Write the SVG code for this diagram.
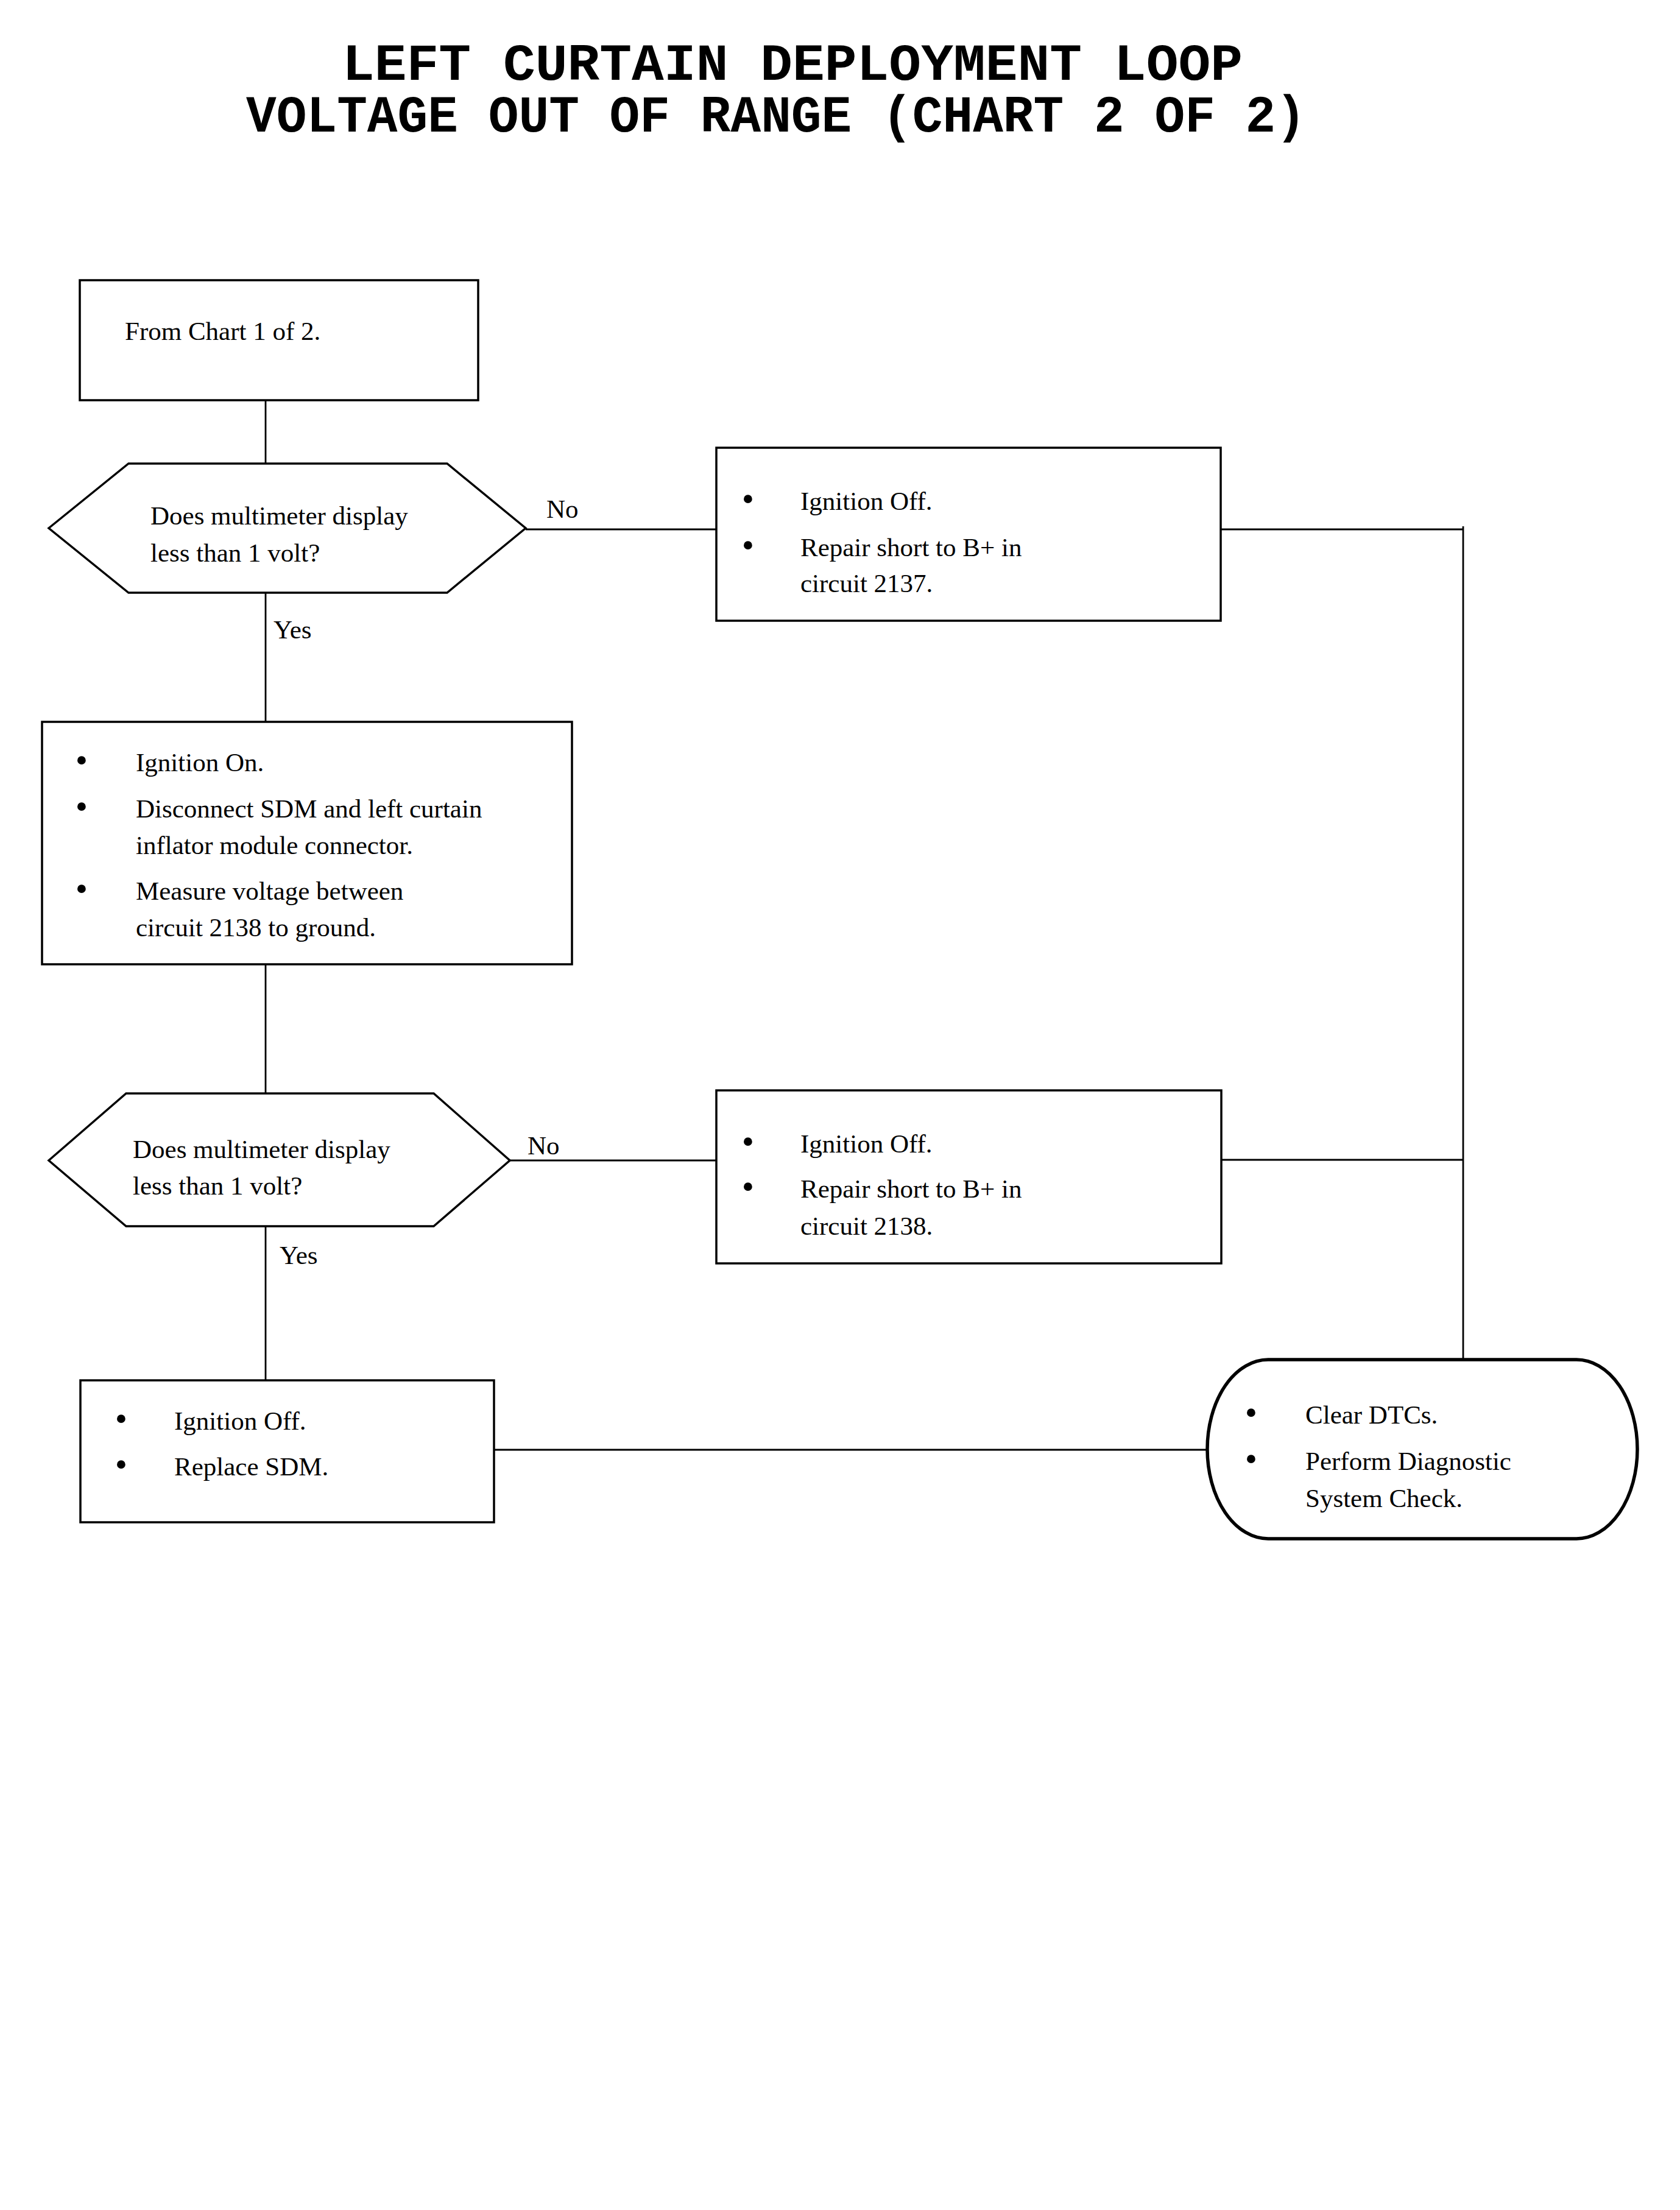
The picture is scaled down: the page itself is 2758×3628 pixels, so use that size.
<svg xmlns="http://www.w3.org/2000/svg" width="2758" height="3628" viewBox="0 0 2758 3628">
<style>
.bg{fill:#fff}
.box{fill:#fff;stroke:#000;stroke-width:3.5}
.term{fill:#fff;stroke:#000;stroke-width:5.5}
.con{fill:none;stroke:#000;stroke-width:2.8}
.t{font-family:"Liberation Serif","Times New Roman",serif;font-size:43px;fill:#000}
.b{font-family:"Liberation Serif","Times New Roman",serif;font-size:58px;fill:#000;text-anchor:middle}
.title{font-family:"Liberation Mono","Courier New",monospace;font-weight:bold;font-size:86px;fill:#000}
</style>
<rect class="bg" x="0" y="0" width="2758" height="3628"/>
<g id="title">
<text class="title" x="562" y="131" textLength="1478" lengthAdjust="spacingAndGlyphs">LEFT CURTAIN DEPLOYMENT LOOP</text>
<text class="title" x="404" y="216" textLength="1740" lengthAdjust="spacingAndGlyphs">VOLTAGE OUT OF RANGE (CHART 2 OF 2)</text>
</g>
<g id="connectors">
<line class="con" x1="436" y1="657" x2="436" y2="761"/>
<line class="con" x1="863" y1="869" x2="1176" y2="869"/>
<line class="con" x1="436" y1="973" x2="436" y2="1185"/>
<line class="con" x1="2004" y1="869" x2="2402" y2="869"/>
<line class="con" x1="2402" y1="864" x2="2402" y2="2232"/>
<line class="con" x1="436" y1="1583" x2="436" y2="1795"/>
<line class="con" x1="837" y1="1905" x2="1176" y2="1905"/>
<line class="con" x1="2005" y1="1904" x2="2402" y2="1904"/>
<line class="con" x1="436" y1="2013" x2="436" y2="2266"/>
<line class="con" x1="811" y1="2380" x2="1982" y2="2380"/>
<text class="t" x="897" y="850">No</text>
<text class="t" x="449" y="1048">Yes</text>
<text class="t" x="866" y="1895">No</text>
<text class="t" x="459" y="2075">Yes</text>
</g>
<g id="n_start">
<rect class="box" x="131" y="460" width="654" height="197"/>
<text class="t" x="205" y="558">From Chart 1 of 2.</text>
</g>
<g id="n_dec1">
<polygon class="box" points="80,867 211,761 734,761 863,867 734,973 211,973"/>
<text class="t" x="247" y="861">Does multimeter display</text>
<text class="t" x="247" y="922">less than 1 volt?</text>
</g>
<g id="n_repair2137">
<rect class="box" x="1176" y="735" width="828" height="284"/>
<text class="b" x="1228" y="838">•</text>
<text class="t" x="1314" y="837">Ignition Off.</text>
<text class="b" x="1228" y="914">•</text>
<text class="t" x="1314" y="913">Repair short to B+ in</text>
<text class="t" x="1314" y="972">circuit 2137.</text>
</g>
<g id="n_ignon">
<rect class="box" x="69" y="1185" width="870" height="398"/>
<text class="b" x="134" y="1267">•</text>
<text class="t" x="223" y="1266">Ignition On.</text>
<text class="b" x="134" y="1343">•</text>
<text class="t" x="223" y="1342">Disconnect SDM and left curtain</text>
<text class="t" x="223" y="1402">inflator module connector.</text>
<text class="b" x="134" y="1478">•</text>
<text class="t" x="223" y="1477">Measure voltage between</text>
<text class="t" x="223" y="1537">circuit 2138 to ground.</text>
</g>
<g id="n_dec2">
<polygon class="box" points="80,1905 207,1795 712,1795 837,1905 712,2013 207,2013"/>
<text class="t" x="218" y="1901">Does multimeter display</text>
<text class="t" x="218" y="1961">less than 1 volt?</text>
</g>
<g id="n_repair2138">
<rect class="box" x="1176" y="1790" width="829" height="284"/>
<text class="b" x="1228" y="1893">•</text>
<text class="t" x="1314" y="1892">Ignition Off.</text>
<text class="b" x="1228" y="1967">•</text>
<text class="t" x="1314" y="1966">Repair short to B+ in</text>
<text class="t" x="1314" y="2027">circuit 2138.</text>
</g>
<g id="n_replace">
<rect class="box" x="132" y="2266" width="679" height="233"/>
<text class="b" x="199" y="2348">•</text>
<text class="t" x="286" y="2347">Ignition Off.</text>
<text class="b" x="199" y="2423">•</text>
<text class="t" x="286" y="2422">Replace SDM.</text>
</g>
<g id="n_end">
<rect class="term" x="1982" y="2232" width="706" height="294" rx="100" ry="147"/>
<text class="b" x="2054" y="2338">•</text>
<text class="t" x="2143" y="2337">Clear DTCs.</text>
<text class="b" x="2054" y="2414">•</text>
<text class="t" x="2143" y="2413">Perform Diagnostic</text>
<text class="t" x="2143" y="2474">System Check.</text>
</g>
</svg>
